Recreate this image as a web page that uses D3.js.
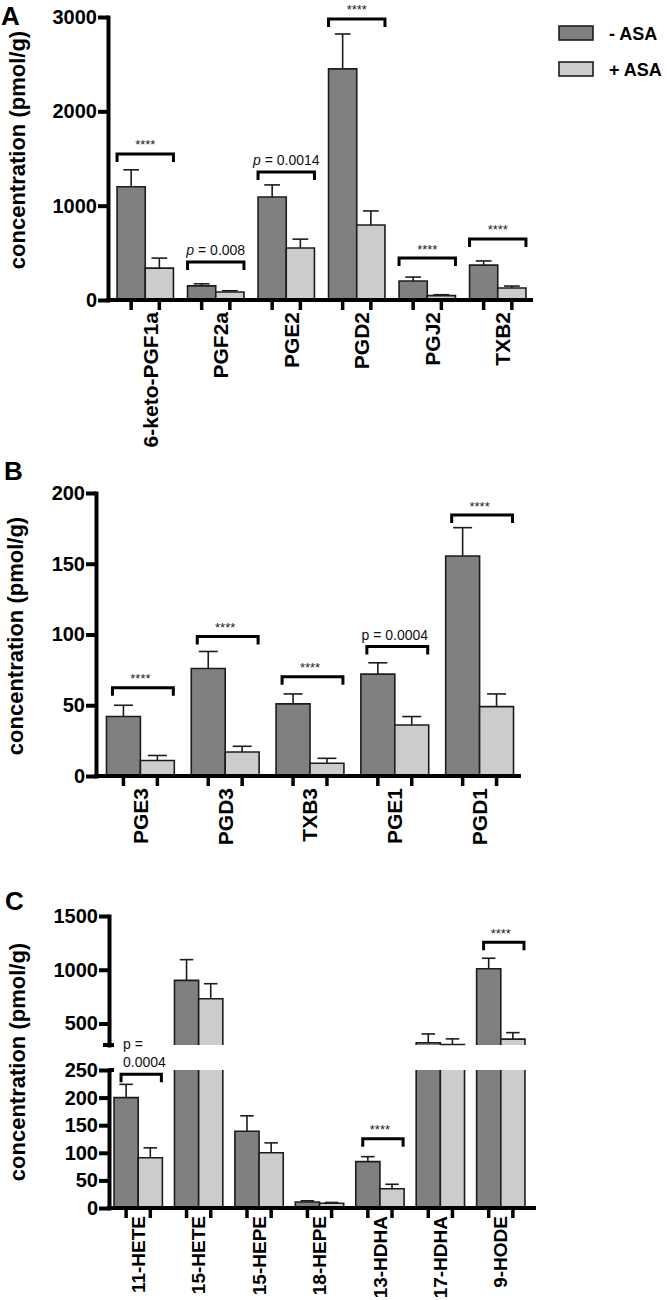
<!DOCTYPE html>
<html><head><meta charset="utf-8">
<script src="https://cdn.jsdelivr.net/npm/d3@7"></script>
<style>
body{margin:0;background:#fff}
svg{display:block}
text{font-family:"Liberation Sans",Arial,Helvetica,sans-serif}
</style>
</head><body>
<svg id="c" width="667" height="1300"></svg>
<script>
// ---------- DATA ----------
// Panel A
const groupsA = ["6-keto-PGF1a","PGF2a","PGE2","PGD2","PGJ2","TXB2"];
const minusA = [1200,150,1092,2450,201,370];
const minusSemA = [180,22,128,370,42,44];
const plusA = [338,85,551,795,46,127];
const plusSemA = [106,13,94,149,10,21];
const sigTextA = ["****","p = 0.008","p = 0.0014","****","****","****"];
const sigLevelA = [1548,403,1357,2980,445,647];
const ticksA = [0,1000,2000,3000];

// Panel B
const groupsB = ["PGE3","PGD3","TXB3","PGE1","PGD1"];
const minusB = [42,76,51,72,155.5];
const minusSemB = [8,12,7,8,20];
const plusB = [11,17,9,36,49];
const plusSemB = [3.5,4,3.5,6,9];
const sigTextB = ["****","****","****","p = 0.0004","****"];
const sigLevelB = [62.4,98.6,70.2,91.5,184.4];
const ticksB = [0,50,100,150,200];

// Panel C (broken axis)
const groupsC = ["11-HETE","15-HETE","15-HEPE","18-HEPE","13-HDHA","17-HDHA","9-HODE"];
const minusC = [200,901,139,11,84,321,1010];
const minusSemC = [24,193,28,2,9,82,97];
const plusC = [91,730,100,8.5,35,305,355];
const plusSemC = [18,140,18,1.5,8,52,60];
const sigTextC = ["p =\n0.0004",null,null,null,"****",null,"****"];
const sigLevelC = [242.5,null,null,null,125.6,null,1256];
const ticksCLow = [0,50,100,150,200,250];
const ticksCHigh = [500,1000,1500];

const seriesNames = ["- ASA","+ ASA"];

// ---------- DRAW ----------
const svg = d3.select("#c");
const DARK = "#808080", LIGHT = "#cccccc", STROKE = "#1c1c1c";

function panel(cfg){
  const g = svg.append("g");
  const x = d3.scaleBand().domain(cfg.groups).range(cfg.xRange).paddingInner(0.2).paddingOuter(0.1);
  const bw = x.bandwidth()/2;
  const segs = cfg.segments.map(s => Object.assign({}, s, {scale: d3.scaleLinear().domain(s.domain).range(s.range)}));
  const segFor = v => {
    for (const s of segs) if (v >= s.domain[0] && v <= s.domain[1]) return s;
    return v > segs[segs.length-1].domain[1] ? segs[segs.length-1] : segs[0];
  };
  const Y = v => segFor(v).scale(v);
  const series = [
    {vals: cfg.minus, sem: cfg.minusSem, fill: DARK, off: 0},
    {vals: cfg.plus, sem: cfg.plusSem, fill: LIGHT, off: bw}
  ];
  series.forEach(sr => {
    cfg.groups.forEach((grp, i) => {
      const v = sr.vals[i], x0 = x(grp) + sr.off, x1 = x0 + bw;
      const yv = Y(v), ye = Y(v + sr.sem[i]);
      g.append("line").attr("x1", x0+bw/2).attr("x2", x0+bw/2).attr("y1", yv).attr("y2", ye)
        .attr("stroke", STROKE).attr("stroke-width", 1.6);
      g.append("line").attr("x1", x0+bw/2 - bw*0.28).attr("x2", x0+bw/2 + bw*0.28).attr("y1", ye).attr("y2", ye)
        .attr("stroke", STROKE).attr("stroke-width", 1.6);
      segs.forEach(s => {
        if (v <= s.domain[0]) return;
        const top = Math.min(v, s.domain[1]);
        const yb = s.scale(s.domain[0]), yt = s.scale(top);
        g.append("rect").attr("x", x0).attr("y", yt).attr("width", bw).attr("height", yb-yt)
          .attr("fill", sr.fill);
        let p = `M${x0},${yb}V${yt}`;
        p += (top === v) ? `H${x1}` : `M${x1},${yt}`;
        p += `V${yb}`;
        g.append("path").attr("d", p).attr("fill", "none").attr("stroke", STROKE).attr("stroke-width", 1.6);
      });
    });
  });
  cfg.groups.forEach((grp, i) => {
    const t = cfg.sigText[i];
    if (t == null) return;
    const bx0 = x(grp) + cfg.brInset[0], bx1 = x(grp) + 2*bw - cfg.brInset[1];
    const by = Y(cfg.sigLevel[i]);
    g.append("path").attr("d", `M${bx0},${by+8}V${by}H${bx1}V${by+8}`)
      .attr("fill","none").attr("stroke","#000").attr("stroke-width",3).attr("stroke-linejoin","miter");
    const cx = x(grp) + bw;
    if (t.startsWith("*")) {
      g.append("text").attr("x", cx).attr("y", by-4.5).attr("text-anchor","middle")
        .attr("font-size", 13).attr("fill","#222").text(t);
    } else if (t.includes("\n")) {
      const lines = t.split("\n");
      lines.forEach((ln, k) => {
        g.append("text").attr("x", bx0+2).attr("y", by - 7.5 - (lines.length-1-k)*18)
          .attr("font-size", 14).attr("fill","#111").text(ln);
      });
    } else {
      const tx = g.append("text").attr("x", cx).attr("y", by-6.5).attr("text-anchor","middle")
        .attr("font-size", 14).attr("fill","#111");
      if (cfg.italicP) {
        tx.append("tspan").attr("font-style","italic").text(t.slice(0,1));
        tx.append("tspan").text(t.slice(1));
      } else tx.text(t);
    }
  });
  segs.forEach(s => {
    const ax = g.append("g").attr("transform", `translate(${cfg.axisX},0)`)
      .call(d3.axisLeft(s.scale).tickValues(s.ticks).tickFormat(d3.format("d"))
        .tickSize(10).tickSizeOuter(0).tickPadding(1));
    ax.select(".domain").attr("stroke","#000").attr("stroke-width",4).attr("stroke-linecap","square");
    ax.selectAll(".tick line").attr("stroke","#000").attr("stroke-width",4);
    ax.selectAll(".tick text").attr("font-size",20).attr("font-weight","bold").attr("fill","#000")
      .attr("font-family",'"Liberation Sans",Arial,sans-serif');
    if (s.capBottom) g.append("line").attr("x1", cfg.axisX-6).attr("x2", cfg.axisX+5)
      .attr("y1", s.range[0]).attr("y2", s.range[0]).attr("stroke","#000").attr("stroke-width",4);
    if (s.capTop) g.append("line").attr("x1", cfg.axisX).attr("x2", cfg.axisX+5)
      .attr("y1", s.range[1]).attr("y2", s.range[1]).attr("stroke","#000").attr("stroke-width",4);
  });
  const base = segs[0].scale(0);
  g.append("line").attr("x1", cfg.axisX-2).attr("x2", cfg.xEnd).attr("y1", base).attr("y2", base)
    .attr("stroke","#000").attr("stroke-width",4);
  cfg.groups.forEach(grp => {
    [bw/2, bw*1.5].forEach(o => {
      g.append("line").attr("x1", x(grp)+o).attr("x2", x(grp)+o).attr("y1", base).attr("y2", base+10)
        .attr("stroke","#000").attr("stroke-width",3.5);
    });
    g.append("text").attr("transform", `translate(${x(grp)+bw+cfg.labelOff},${base+cfg.labelGap}) rotate(-90)`)
      .attr("text-anchor","end").attr("dy","0.35em").attr("font-size",cfg.labelSize).attr("font-weight","bold")
      .attr("fill","#000").text(grp);
  });
  g.append("text").attr("transform", `translate(${cfg.titleX},${cfg.titleY}) rotate(-90)`)
    .attr("text-anchor","middle").attr("font-size",22).attr("font-weight","bold").attr("fill","#000")
    .text("concentration (pmol/g)");
  g.append("text").attr("x", cfg.letterPos[0]).attr("y", cfg.letterPos[1]).attr("font-size",26)
    .attr("font-weight","bold").attr("fill","#000").text(cfg.letter);
}

panel({
  groups: groupsA, minus: minusA, minusSem: minusSemA, plus: plusA, plusSem: plusSemA,
  sigText: sigTextA, sigLevel: sigLevelA, italicP: true,
  xRange: [110,533], axisX: 108, xEnd: 533,
  segments: [{domain:[0,3000], range:[300,17], ticks: ticksA}],
  brInset: [0,0], labelOff: 5, labelGap: 12, labelSize: 21,
  titleX: 25, titleY: 150, letter: "A", letterPos: [1,25]
});
panel({
  groups: groupsB, minus: minusB, minusSem: minusSemB, plus: plusB, plusSem: plusSemB,
  sigText: sigTextB, sigLevel: sigLevelB, italicP: false,
  xRange: [98,522], axisX: 96, xEnd: 521,
  segments: [{domain:[0,200], range:[776,493], ticks: ticksB}],
  brInset: [6,1], labelOff: 0, labelGap: 12, labelSize: 21,
  titleX: 23, titleY: 636, letter: "B", letterPos: [4,480]
});
panel({
  groups: groupsC, minus: minusC, minusSem: minusSemC, plus: plusC, plusSem: plusSemC,
  sigText: sigTextC, sigLevel: sigLevelC, italicP: false,
  xRange: [108,531], axisX: 109, xEnd: 536,
  segments: [
    {domain:[0,250], range:[1208,1070], ticks: ticksCLow, capTop: true},
    {domain:[300,1500], range:[1045,916], ticks: ticksCHigh, capBottom: true}
  ],
  brInset: [7,1], labelOff: 0, labelGap: 8, labelSize: 19,
  titleX: 25, titleY: 1062, letter: "C", letterPos: [5,910]
});

const leg = svg.append("g");
[DARK, LIGHT].forEach((c, i) => {
  leg.append("rect").attr("x", 559).attr("y", 26 + i*36).attr("width", 34).attr("height", 14)
    .attr("fill", c).attr("stroke", STROKE).attr("stroke-width", 1.6);
  leg.append("text").attr("x", 609).attr("y", 39.5 + i*36).attr("font-size", 18)
    .attr("font-weight","bold").attr("fill","#000").text(seriesNames[i]);
});
</script>
</body></html>
